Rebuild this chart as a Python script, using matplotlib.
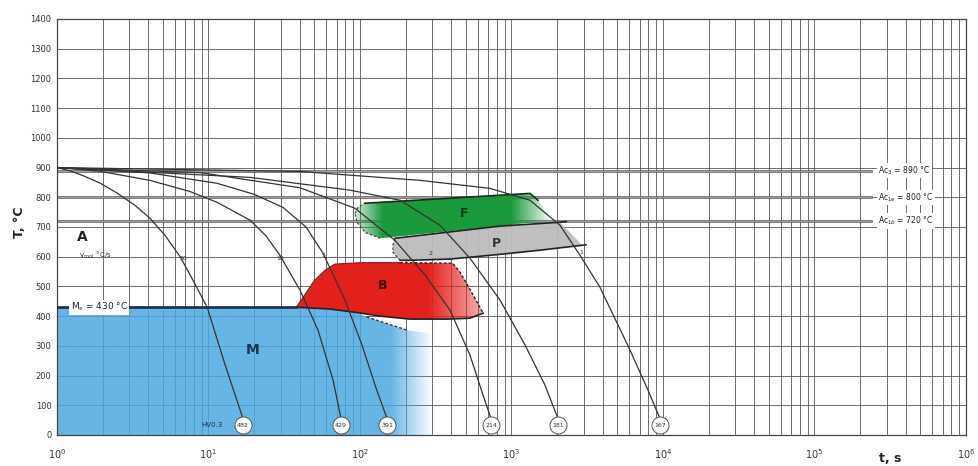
import numpy as np
import matplotlib.pyplot as plt
from matplotlib.patches import Polygon
from matplotlib.colors import to_rgb

# cooling curves (time s, temperature °C)
c1_t = [1, 1.22, 1.5, 1.92, 2.5, 3.27, 4.1, 5.16, 6.5, 7.9, 9.8, 12.8, 16.9]
c1_T = [900, 889, 872, 848, 814, 773, 730, 672, 600, 521, 430, 240, 55]
c2_t = [1, 1.9, 4.1, 7.5, 11.4, 18.8, 24, 29.6, 40.2, 52.8, 66.4, 75]
c2_T = [900, 888, 857, 820, 783, 723, 670, 605, 487, 353, 185, 55]
c3_t = [1, 4.1, 11.4, 20, 31, 44, 57, 79.6, 103, 129, 151]
c3_T = [900, 882, 847, 810, 766, 700, 612, 454, 303, 151, 55]
c4_t = [1, 8.8, 40.2, 92.7, 170, 269, 393, 532, 649, 733]
c4_T = [900, 883, 832, 763, 655, 538, 420, 269, 134, 55]
c5_t = [1, 18.8, 85.9, 184, 337, 532, 840, 1228, 1663, 2028]
c5_T = [900, 867, 824, 790, 706, 595, 454, 303, 168, 55]
c6_t = [1, 40.2, 249, 721, 1324, 2089, 2831, 3837, 6053, 7962, 9550]
c6_T = [900, 887, 857, 830, 790, 706, 605, 497, 286, 151, 55]
curves_t = [c1_t, c2_t, c3_t, c4_t, c5_t, c6_t]
curves_T = [c1_T, c2_T, c3_T, c4_T, c5_T, c6_T]
hardness = ["482", "429", "391", "214", "181", "167"]

# cooling rate labels (°C/s)
rate_labels = ["50", "10", "5", "2", "1"]
rate_t = [6.8, 29.6, 57, 290, 2900]
rate_T = [595, 595, 605, 610, 615]

# transformation fields
B_t = [38, 43, 50, 59, 68, 100, 184, 410, 457, 532, 650, 530, 375, 214, 136, 93, 63]
B_T = [430, 470, 520, 555, 575, 580, 580, 578, 548, 490, 410, 393, 390, 390, 400, 413, 424]
F_t = [92.7, 97, 108, 184, 393, 840, 1324, 1496, 1663, 1850, 840, 393, 136, 108, 95.5]
F_T = [746, 766, 780, 787, 797, 807, 813, 790, 756, 723, 703, 686, 662, 682, 716]
P_t = [170, 840, 2089, 2432, 2918, 1542, 840, 393, 214, 184, 165, 165]
P_T = [662, 703, 716, 682, 639, 622, 608, 592, 588, 588, 615, 640]
M_t = [1, 1, 38, 63, 93, 111, 204, 300, 300]
M_T = [0, 430, 430, 424, 413, 397, 353, 340, 0]
Bdash_t = [111, 204]
Bdash_T = [397, 353]

Ms = 430
Ac_values = [890, 800, 720]
Ac_labels = ["Ac$_3$ = 890 °C", "Ac$_{1e}$ = 800 °C", "Ac$_{1b}$ = 720 °C"]

lg = np.log10


def shaded(ax, t, T, color, x_stops, a_stops, z):
    x = lg(np.array(t, float))
    y = np.array(T, float)
    poly = Polygon(np.column_stack([x, y]), closed=True, fc="none", ec="none")
    ax.add_patch(poly)
    gx = np.linspace(x.min(), x.max(), 400)
    img = np.zeros((2, 400, 4))
    img[..., :3] = to_rgb(color)
    img[..., 3] = np.interp(gx, x_stops, a_stops)
    im = ax.imshow(img, extent=[x.min(), x.max(), y.min(), y.max()],
                   origin="lower", aspect="auto", zorder=z, interpolation="bilinear")
    im.set_clip_path(poly)


fig = plt.figure(figsize=(9.79, 4.66), dpi=100)
ax = fig.add_axes([57 / 979, 1 - 435 / 466, (966 - 57) / 979, (435 - 19) / 466])

# grid
ax.set_xticks(range(7))
ax.set_xticklabels([f"$10^{{{i}}}$" for i in range(7)])
ax.set_xticks([d + lg(k) for d in range(6) for k in range(2, 10)], minor=True)
ax.set_yticks(range(0, 1401, 100))
ax.grid(which="both", color="#555555", lw=0.6, zorder=0)
ax.set_axisbelow(True)
ax.tick_params(which="both", length=0)
ax.tick_params(axis="x", labelsize=7, pad=9, colors="#333333")
ax.tick_params(axis="y", labelsize=6, pad=4, colors="#333333")
for s in ax.spines.values():
    s.set_color("#444444")
    s.set_linewidth(0.9)

# fields
shaded(ax, M_t, M_T, "#4aa8e0", [0, 2.2, 2.48], [0.85, 0.85, 0.0], 1)
shaded(ax, B_t, B_T, "#e3211c", [1.5, 2.45, 2.82], [1.0, 1.0, 0.35], 2)
shaded(ax, F_t, F_T, "#1b9a3b", [1.96, 2.15, 3.0, 3.27], [0.15, 1.0, 1.0, 0.0], 2)
shaded(ax, P_t, P_T, "#bdbdbd", [2.2, 3.5], [0.95, 0.95], 2)

# field outlines
ax.plot(lg(B_t[:7]), B_T[:7], color="#8a1a14", lw=0.8, zorder=3)
ax.plot(lg(B_t[6:11]), B_T[6:11], color="#222222", lw=1.0, ls=(0, (2, 1.5)), zorder=3)
ax.plot(lg(B_t[10:] + [38]), B_T[10:] + [430], color="#222222", lw=1.2, zorder=3)
ax.plot(lg(Bdash_t), Bdash_T, color="#333333", lw=1.0, ls=(0, (2, 1.5)), zorder=3)
ax.plot(lg(F_t[2:8]), F_T[2:8], color="#1a2a1a", lw=1.2, zorder=3)
ax.plot(lg(F_t[:3]), F_T[:3], color="#444444", lw=0.9, ls=(0, (2, 1.5)), zorder=3)
ax.plot(lg(F_t[12:] + [F_t[0]]), F_T[12:] + [F_T[0]], color="#444444", lw=0.9, ls=(0, (2, 1.5)), zorder=3)
ax.plot(lg(P_t[:3] + [2300]), P_T[:3] + [718], color="#222222", lw=1.2, zorder=3)
ax.plot(lg([3100] + P_t[5:10]), [640] + P_T[5:10], color="#222222", lw=1.2, zorder=3)
ax.plot(lg(P_t[9:] + [P_t[0]]), P_T[9:] + [P_T[0]], color="#444444", lw=0.9, ls=(0, (2, 1.5)), zorder=3)

# Ac lines
for v, lab in zip(Ac_values, Ac_labels):
    ax.plot([0, 5.37], [v, v], color="#555555", lw=1.8, zorder=1.5)
    ax.plot([0, 5.37], [v, v], color="#dddddd", lw=0.4, zorder=1.6)
    ax.text(5.42, v, lab, fontsize=5.5, va="center", ha="left", color="#222222",
            bbox=dict(fc="white", ec="none", pad=1.0), zorder=5)

# Ms line
ax.plot([0, lg(38)], [Ms, Ms], color="#1d3550", lw=2.0, zorder=3)
ax.text(0.09, Ms, "M$_s$ = 430 °C", fontsize=6.5, va="center", ha="left", color="#222222",
        bbox=dict(fc="white", ec="none", pad=1.0), zorder=5)

# cooling curves and hardness circles
for t, T, hv in zip(curves_t, curves_T, hardness):
    ax.plot(lg(t), T, color="#333333", lw=0.9, zorder=4)
    ax.scatter(lg(t[-1]), 33, s=150, marker="o", fc="white", ec="#555555", lw=0.7, zorder=5)
    ax.text(lg(t[-1]), 33, hv, fontsize=4.5, ha="center", va="center", color="#333333", zorder=6)

for lab, t, T in zip(rate_labels, rate_t, rate_T):
    ax.text(lg(t), T, lab, fontsize=4.5, ha="center", va="center", color="#333333", zorder=6)

# region labels
ax.text(0.17, 668, "A", fontsize=10, fontweight="bold", ha="center", va="center", color="#222222")
ax.text(0.25, 605, "v$_{\\mathrm{cool}}$ °C/s", fontsize=5, ha="center", va="center", color="#333333")
ax.text(1.29, 286, "M", fontsize=10, fontweight="bold", ha="center", va="center", color="#1d3550", zorder=6)
ax.text(2.15, 504, "B", fontsize=9, fontweight="bold", ha="center", va="center", color="#3a0a08", zorder=6)
ax.text(2.69, 746, "F", fontsize=9, fontweight="bold", ha="center", va="center", color="#0b3d18", zorder=6)
ax.text(2.9, 645, "P", fontsize=9, fontweight="bold", ha="center", va="center", color="#333333", zorder=6)
ax.text(1.02, 34, "HV0.3", fontsize=5, ha="center", va="center", color="#1d3550", zorder=6)

ax.set_xlim(0, 6)
ax.set_ylim(0, 1400)

fig.text(20 / 979, 1 - 222 / 466, "T, °C", rotation=90, fontsize=9, fontweight="bold",
         ha="center", va="center", color="#222222")
fig.text(890 / 979, 1 - 458 / 466, "t, s", fontsize=9, fontweight="bold",
         ha="center", va="center", color="#222222")

fig.savefig("out.png", dpi=100)
